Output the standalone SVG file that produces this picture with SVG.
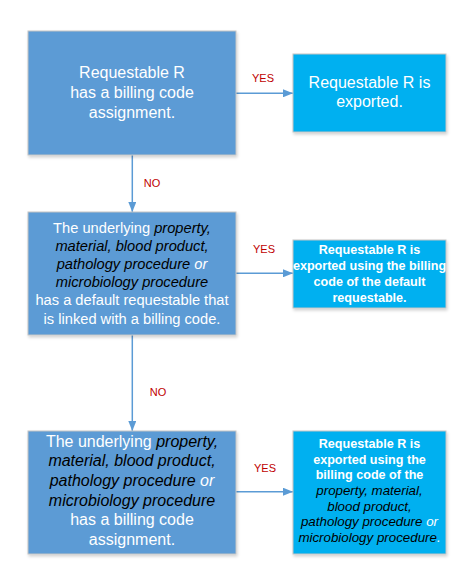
<svg xmlns="http://www.w3.org/2000/svg" width="465" height="585" viewBox="0 0 465 585">
<style>
  .box1 { fill: #5B9BD5; stroke: #C4C4C4; stroke-width: 1; }
  .box2 { fill: #00B0F0; stroke: #C4C4C4; stroke-width: 1; }
  .t { font-family: "Liberation Sans", Arial, sans-serif; fill: #FFFFFF; text-anchor: middle; }
  .big { font-size: 16px; }
  .mid { font-size: 14.67px; }
  .sm { font-size: 12.6px; font-weight: bold; }
  .i { font-style: italic; fill: #000000; }
  .iw { font-style: italic; }
  .ism { font-style: italic; font-weight: normal; font-size: 13.33px; fill: #000000; }
  .iwsm { font-style: italic; font-weight: normal; font-size: 13.33px; }
  .lbl { font-family: "Liberation Sans", Arial, sans-serif; font-size: 11px; fill: #C00000; text-anchor: middle; }
  .conn { stroke: #5B9BD5; stroke-width: 1.5; fill: none; }
</style>
<defs>
  <marker id="arr" markerUnits="userSpaceOnUse" markerWidth="10" markerHeight="8" refX="10" refY="4" orient="auto">
    <path d="M0,0 L10,4 L0,8 z" fill="#5B9BD5"/>
  </marker>
  <filter id="sh" x="-10%" y="-10%" width="125%" height="125%">
    <feDropShadow dx="1" dy="2" stdDeviation="1.5" flood-color="#000" flood-opacity="0.18"/>
  </filter>
</defs>
<rect width="465" height="585" fill="#FFFFFF"/>

<g id="connectors">
  <line class="conn" x1="236" y1="93.3" x2="293" y2="93.3" marker-end="url(#arr)"/>
  <line class="conn" x1="132.3" y1="155" x2="132.3" y2="212" marker-end="url(#arr)"/>
  <line class="conn" x1="236" y1="273.3" x2="293" y2="273.3" marker-end="url(#arr)"/>
  <line class="conn" x1="132.3" y1="335" x2="132.3" y2="431" marker-end="url(#arr)"/>
  <line class="conn" x1="236" y1="491.7" x2="293" y2="491.7" marker-end="url(#arr)"/>
  <text class="lbl" x="263" y="81.5">YES</text>
  <text class="lbl" x="152" y="187.3">NO</text>
  <text class="lbl" x="264" y="253.3">YES</text>
  <text class="lbl" x="158" y="395.7">NO</text>
  <text class="lbl" x="265" y="472.3">YES</text>
</g>

<g id="q1">
  <rect class="box1" x="28" y="31" width="208" height="124" filter="url(#sh)"/>
  <text class="t big" x="132" y="78">Requestable R</text>
  <text class="t big" x="132" y="98">has a billing code</text>
  <text class="t big" x="132" y="118">assignment.</text>
</g>

<g id="r1">
  <rect class="box2" x="293" y="54" width="153" height="78" filter="url(#sh)"/>
  <text class="t big" x="369.5" y="88.3">Requestable R is</text>
  <text class="t big" x="369.5" y="106.5">exported.</text>
</g>

<g id="q2">
  <rect class="box1" x="28" y="212" width="208" height="123" filter="url(#sh)"/>
  <text class="t mid" x="132" y="232.5">The underlying <tspan class="i">property,</tspan></text>
  <text class="t mid" x="132" y="250.7"><tspan class="i">material, blood product,</tspan></text>
  <text class="t mid" x="132" y="268.9"><tspan class="i">pathology procedure</tspan><tspan class="iw"> or</tspan></text>
  <text class="t mid" x="132" y="287.1"><tspan class="i">microbiology procedure</tspan></text>
  <text class="t mid" x="132" y="305.3">has a default requestable that</text>
  <text class="t mid" x="132" y="323.5">is linked with a billing code.</text>
</g>

<g id="r2">
  <rect class="box2" x="293" y="240" width="153" height="68" filter="url(#sh)"/>
  <text class="t sm" x="369.5" y="254">Requestable R is</text>
  <text class="t sm" x="369.5" y="270">exported using the billing</text>
  <text class="t sm" x="369.5" y="286.3">code of the default</text>
  <text class="t sm" x="369.5" y="302">requestable.</text>
</g>

<g id="q3">
  <rect class="box1" x="28" y="431" width="208" height="123" filter="url(#sh)"/>
  <text class="t big" x="132" y="446.7">The underlying <tspan class="i">property,</tspan></text>
  <text class="t big" x="132" y="466.3"><tspan class="i">material, blood product,</tspan></text>
  <text class="t big" x="132" y="486"><tspan class="i">pathology procedure</tspan><tspan class="iw"> or</tspan></text>
  <text class="t big" x="132" y="505.7"><tspan class="i">microbiology procedure</tspan></text>
  <text class="t big" x="132" y="525.3">has a billing code</text>
  <text class="t big" x="132" y="545">assignment.</text>
</g>

<g id="r3">
  <rect class="box2" x="293" y="431" width="153" height="123" filter="url(#sh)"/>
  <text class="t sm" x="369.5" y="448.3">Requestable R is</text>
  <text class="t sm" x="369.5" y="463.9">exported using the</text>
  <text class="t sm" x="369.5" y="479.4">billing code of the</text>
  <text class="t sm" x="369.5" y="495"><tspan class="ism">property, material,</tspan></text>
  <text class="t sm" x="369.5" y="510.6"><tspan class="ism">blood product,</tspan></text>
  <text class="t sm" x="369.5" y="526.1"><tspan class="ism">pathology procedure</tspan><tspan class="iwsm"> or</tspan></text>
  <text class="t sm" x="369.5" y="541.7"><tspan class="ism">microbiology procedure</tspan><tspan class="iwsm">.</tspan></text>
</g>
</svg>
